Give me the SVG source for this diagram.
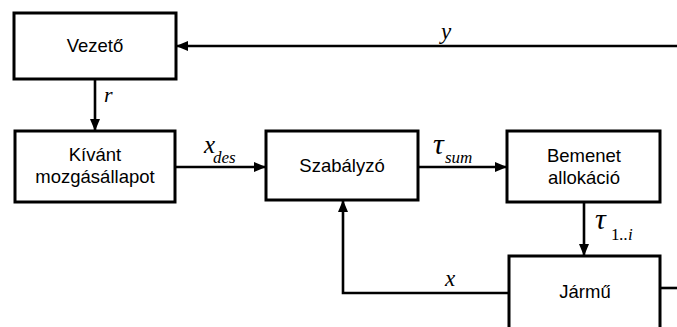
<svg xmlns="http://www.w3.org/2000/svg" width="677" height="327" viewBox="0 0 677 327">
<defs>
<marker id="ah" markerWidth="12" markerHeight="10" refX="11" refY="5" orient="auto" markerUnits="userSpaceOnUse">
<path d="M0,0 L12,5 L0,10 Z" fill="#000"/>
</marker>
<style>
.box{fill:#fff;stroke:#000;stroke-width:3}
.lbl{font-family:"Liberation Sans",Arial,sans-serif;font-size:18.5px;fill:#000;text-anchor:middle}
.conn{fill:none;stroke:#000;stroke-width:2.6}
.m{font-family:"Liberation Serif","Times New Roman",serif;font-style:italic;fill:#000}
</style>
</defs>
<rect width="677" height="327" fill="#fff"/>
<g id="connectors">
<path class="conn" d="M677,46 L177,46" marker-end="url(#ah)"/>
<path class="conn" d="M95,79 L95,130" marker-end="url(#ah)"/>
<path class="conn" d="M175,167 L265,167" marker-end="url(#ah)"/>
<path class="conn" d="M418,167 L506,167" marker-end="url(#ah)"/>
<path class="conn" d="M584,202 L584,255" marker-end="url(#ah)"/>
<path class="conn" d="M509,293 L343,293 L343,201" marker-end="url(#ah)"/>
<path class="conn" d="M660,288 L677,288"/>
<text class="m" x="441" y="39" font-size="23">y</text>
<text class="m" x="104" y="102" font-size="22">r</text>
<text class="m" x="204" y="153" font-size="25">x</text>
<text class="m" x="213" y="163" font-size="17">des</text>
<text class="m" x="433" y="154" font-size="30">τ</text>
<text class="m" x="445" y="163" font-size="17">sum</text>
<text class="m" x="595" y="229" font-size="30">τ</text>
<text class="m" x="611" y="240" font-size="17"><tspan font-style="normal">1</tspan>..i</text>
<text class="m" x="445" y="286" font-size="23">x</text>
</g>
<g id="vezeto"><rect class="box" x="14" y="13" width="162" height="66"/><text class="lbl" x="95" y="52">Vezető</text></g>
<g id="kivant"><rect class="box" x="15" y="131" width="160" height="71"/><text class="lbl" x="95" y="161">Kívánt</text><text class="lbl" x="95" y="183">mozgásállapot</text></g>
<g id="szabalyzo"><rect class="box" x="266" y="131" width="152" height="69"/><text class="lbl" x="342" y="172">Szabályzó</text></g>
<g id="bemenet"><rect class="box" x="507" y="131" width="153" height="71"/><text class="lbl" x="584" y="162">Bemenet</text><text class="lbl" x="584" y="184">allokáció</text></g>
<g id="jarmu"><rect class="box" x="509" y="256" width="151" height="90"/><text class="lbl" x="585" y="298">Jármű</text></g>
</svg>
